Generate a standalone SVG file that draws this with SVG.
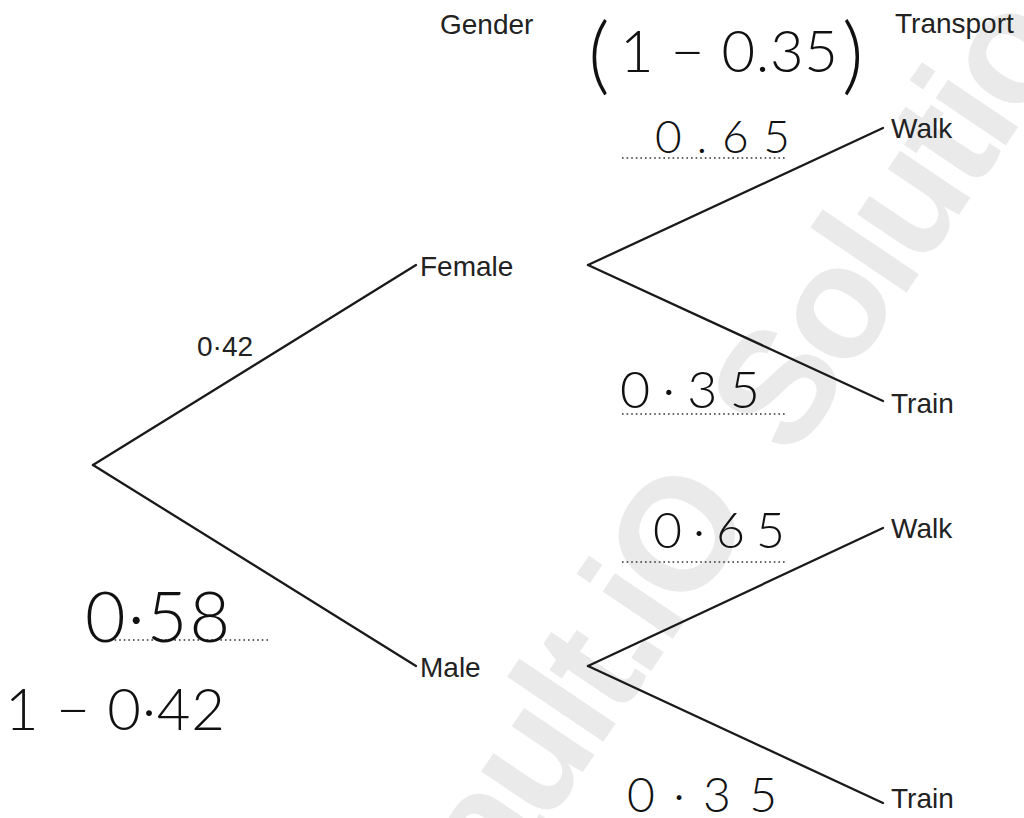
<svg xmlns="http://www.w3.org/2000/svg" width="1024" height="818" viewBox="0 0 1024 818">
  <style>
    .label { font-family: "Liberation Sans", Arial, sans-serif; font-size: 28px; fill: #222; }
    .branch { stroke: #1a1a1a; stroke-width: 2.3; fill: none; stroke-linecap: round; }
    .answer-line { stroke: #333; stroke-width: 1.6; stroke-dasharray: 1.6 3; fill: none; }
    .hand { font-family: Lato, "Open Sans", "DejaVu Sans", sans-serif; font-weight: 300; fill: #111; }
    .mark { font-family: "Liberation Sans", Arial, sans-serif; font-weight: bold; font-size: 160px; letter-spacing: -6px; word-spacing: 30px; fill: #eaeaea; }
  </style>

  <rect width="1024" height="818" fill="#ffffff"/>

  <!-- background watermark -->
  <g id="watermark">
    <text class="mark" transform="translate(448,972) rotate(-56)">Vault.iO Solutions</text>
  </g>

  <!-- column headings -->
  <g id="headings">
    <text class="label" x="440" y="34">Gender</text>
    <text class="label" x="895" y="33">Transport</text>
  </g>

  <!-- tree branches -->
  <g id="connectors">
    <line class="branch" x1="93" y1="465" x2="416" y2="265"/>
    <line class="branch" x1="93" y1="465" x2="416" y2="666"/>
    <line class="branch" x1="588" y1="265" x2="883" y2="128"/>
    <line class="branch" x1="588" y1="265" x2="883" y2="401"/>
    <line class="branch" x1="588" y1="666" x2="883" y2="528"/>
    <line class="branch" x1="588" y1="666" x2="883" y2="803"/>
  </g>

  <!-- nodes -->
  <g id="node-female"><text class="label" x="420" y="276">Female</text></g>
  <g id="node-male"><text class="label" x="420" y="677">Male</text></g>
  <g id="node-walk-f"><text class="label" x="891" y="138">Walk</text></g>
  <g id="node-train-f"><text class="label" x="891" y="413">Train</text></g>
  <g id="node-walk-m"><text class="label" x="891" y="538">Walk</text></g>
  <g id="node-train-m"><text class="label" x="891" y="808">Train</text></g>

  <!-- given probability -->
  <g id="prob-female"><text class="label" x="197" y="356">0·42</text></g>

  <!-- dotted answer lines -->
  <g id="answer-lines">
    <line class="answer-line" x1="622" y1="158" x2="786" y2="158"/>
    <line class="answer-line" x1="622" y1="414" x2="786" y2="414"/>
    <line class="answer-line" x1="622" y1="562" x2="786" y2="562"/>
    <line class="answer-line" x1="110" y1="640" x2="270" y2="640"/>
  </g>

  <!-- written working -->
  <g id="working">
    <text class="hand" x="588" y="84" font-size="84">(</text>
    <text class="hand" x="620" y="72" font-size="58" textLength="218" lengthAdjust="spacing">1 − 0.35</text>
    <text class="hand" x="842" y="84" font-size="84">)</text>
    <text class="hand" x="655" y="153" font-size="46" textLength="135" lengthAdjust="spacing">0.65</text>
    <text class="hand" x="620" y="408" font-size="52" textLength="140" lengthAdjust="spacing">0·35</text>
    <text class="hand" x="653" y="548" font-size="50" textLength="132" lengthAdjust="spacing">0·65</text>
    <text class="hand" x="627" y="812" font-size="48" textLength="150" lengthAdjust="spacing">0·35</text>
    <text class="hand" x="85" y="642" font-size="70" textLength="145" lengthAdjust="spacing">0·58</text>
    <text class="hand" x="5" y="730" font-size="58" textLength="220" lengthAdjust="spacing">1 − 0·42</text>
  </g>
</svg>
